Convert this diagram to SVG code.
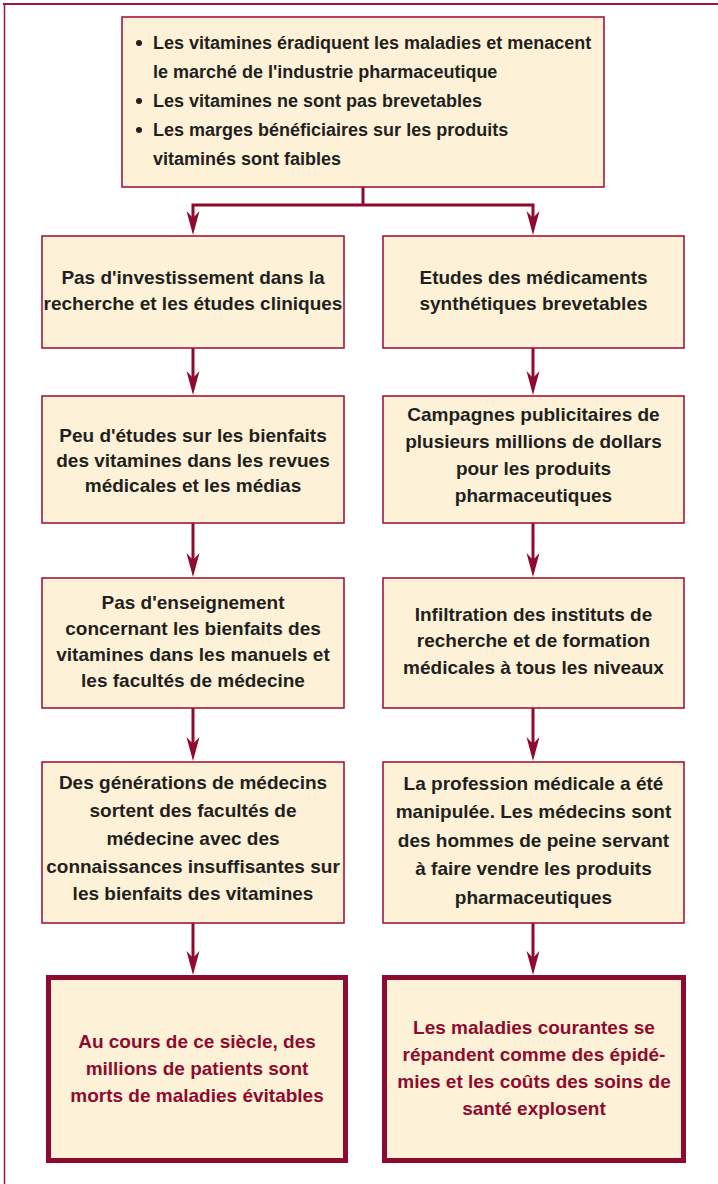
<svg xmlns="http://www.w3.org/2000/svg" width="718" height="1184" viewBox="0 0 718 1184">
<style>
.box{fill:#fdf2d7;stroke:#a3173f;stroke-width:1.6}
.thick{fill:#fdf2d7;stroke:#8e0a2e;stroke-width:5}
.t{font-family:"Liberation Sans",Arial,sans-serif;font-weight:bold;font-size:19px;fill:#231f20;text-anchor:middle}
.tl{font-family:"Liberation Sans",Arial,sans-serif;font-weight:bold;font-size:18px;fill:#231f20}
.dot{fill:#231f20}
.red{fill:#8e0a2e}
.ln{fill:none;stroke:#8e0a2e;stroke-width:3;stroke-linejoin:miter}
.frame{fill:none;stroke:#a3173f}
</style>
<defs>
<marker id="ah" markerUnits="userSpaceOnUse" markerWidth="26" markerHeight="16" refX="12" refY="7" orient="auto-start-reverse" viewBox="0 0 26 14" overflow="visible">
<path d="M24 7 L0 0.5 L7 7 L0 13.5 Z" fill="#8e0a2e"/>
</marker>
</defs>
<rect width="718" height="1184" fill="#ffffff"/>
<line class="frame" x1="3" y1="4" x2="718" y2="4" stroke-width="2.2"/>
<line class="frame" x1="4.5" y1="3" x2="4.5" y2="1184" stroke-width="1.5"/>

<g id="connectors">
<line class="ln" x1="363" y1="187" x2="363" y2="205"/>
<polyline class="ln" points="193,223 193,205 533,205 533,223" marker-start="url(#ah)" marker-end="url(#ah)"/>
<line class="ln" x1="193" y1="348" x2="193" y2="383" marker-end="url(#ah)"/>
<line class="ln" x1="533" y1="348" x2="533" y2="383" marker-end="url(#ah)"/>
<line class="ln" x1="193" y1="523" x2="193" y2="565" marker-end="url(#ah)"/>
<line class="ln" x1="533" y1="523" x2="533" y2="565" marker-end="url(#ah)"/>
<line class="ln" x1="193" y1="708" x2="193" y2="749" marker-end="url(#ah)"/>
<line class="ln" x1="533" y1="708" x2="533" y2="749" marker-end="url(#ah)"/>
<line class="ln" x1="193" y1="923" x2="193" y2="963" marker-end="url(#ah)"/>
<line class="ln" x1="533" y1="923" x2="533" y2="963" marker-end="url(#ah)"/>
</g>

<g id="top">
<rect class="box" x="122" y="17" width="482" height="170"/>
<circle class="dot" cx="139" cy="43" r="3"/>
<circle class="dot" cx="139" cy="101" r="3"/>
<circle class="dot" cx="139" cy="130" r="3"/>
<text class="tl" x="153" y="49">Les vitamines éradiquent les maladies et menacent</text>
<text class="tl" x="153" y="78">le marché de l'industrie pharmaceutique</text>
<text class="tl" x="153" y="107">Les vitamines ne sont pas brevetables</text>
<text class="tl" x="153" y="136">Les marges bénéficiaires sur les produits</text>
<text class="tl" x="153" y="165">vitaminés sont faibles</text>
</g>

<g id="l1">
<rect class="box" x="42" y="236" width="302" height="112"/>
<text class="t" x="193" y="284">Pas d'investissement dans la</text>
<text class="t" x="193" y="310">recherche et les études cliniques</text>
</g>
<g id="r1">
<rect class="box" x="383" y="236" width="301" height="112"/>
<text class="t" x="533.5" y="284">Etudes des médicaments</text>
<text class="t" x="533.5" y="310">synthétiques brevetables</text>
</g>

<g id="l2">
<rect class="box" x="42" y="396" width="302" height="127"/>
<text class="t" x="193" y="442">Peu d'études sur les bienfaits</text>
<text class="t" x="193" y="467">des vitamines dans les revues</text>
<text class="t" x="193" y="492">médicales et les médias</text>
</g>
<g id="r2">
<rect class="box" x="383" y="396" width="301" height="127"/>
<text class="t" x="533.5" y="421">Campagnes publicitaires de</text>
<text class="t" x="533.5" y="448">plusieurs millions de dollars</text>
<text class="t" x="533.5" y="475">pour les produits</text>
<text class="t" x="533.5" y="502">pharmaceutiques</text>
</g>

<g id="l3">
<rect class="box" x="42" y="578" width="302" height="130"/>
<text class="t" x="193" y="609">Pas d'enseignement</text>
<text class="t" x="193" y="635">concernant les bienfaits des</text>
<text class="t" x="193" y="661">vitamines dans les manuels et</text>
<text class="t" x="193" y="687">les facultés de médecine</text>
</g>
<g id="r3">
<rect class="box" x="383" y="578" width="301" height="130"/>
<text class="t" x="533.5" y="621">Infiltration des instituts de</text>
<text class="t" x="533.5" y="647">recherche et de formation</text>
<text class="t" x="533.5" y="674">médicales à tous les niveaux</text>
</g>

<g id="l4">
<rect class="box" x="42" y="762" width="302" height="161"/>
<text class="t" x="193" y="789">Des générations de médecins</text>
<text class="t" x="193" y="817">sortent des facultés de</text>
<text class="t" x="193" y="845">médecine avec des</text>
<text class="t" x="193" y="873">connaissances insuffisantes sur</text>
<text class="t" x="193" y="900">les bienfaits des vitamines</text>
</g>
<g id="r4">
<rect class="box" x="383" y="762" width="301" height="161"/>
<text class="t" x="533.5" y="790">La profession médicale a été</text>
<text class="t" x="533.5" y="818">manipulée. Les médecins sont</text>
<text class="t" x="533.5" y="847">des hommes de peine servant</text>
<text class="t" x="533.5" y="875">à faire vendre les produits</text>
<text class="t" x="533.5" y="904">pharmaceutiques</text>
</g>

<g id="l5">
<rect class="thick" x="48.5" y="977.5" width="297" height="183"/>
<text class="t red" x="197" y="1048">Au cours de ce siècle, des</text>
<text class="t red" x="197" y="1075">millions de patients sont</text>
<text class="t red" x="197" y="1102">morts de maladies évitables</text>
</g>
<g id="r5">
<rect class="thick" x="384.5" y="977.5" width="299" height="183"/>
<text class="t red" x="534" y="1034">Les maladies courantes se</text>
<text class="t red" x="534" y="1061">répandent comme des épidé-</text>
<text class="t red" x="534" y="1088">mies et les coûts des soins de</text>
<text class="t red" x="534" y="1115">santé explosent</text>
</g>
</svg>
